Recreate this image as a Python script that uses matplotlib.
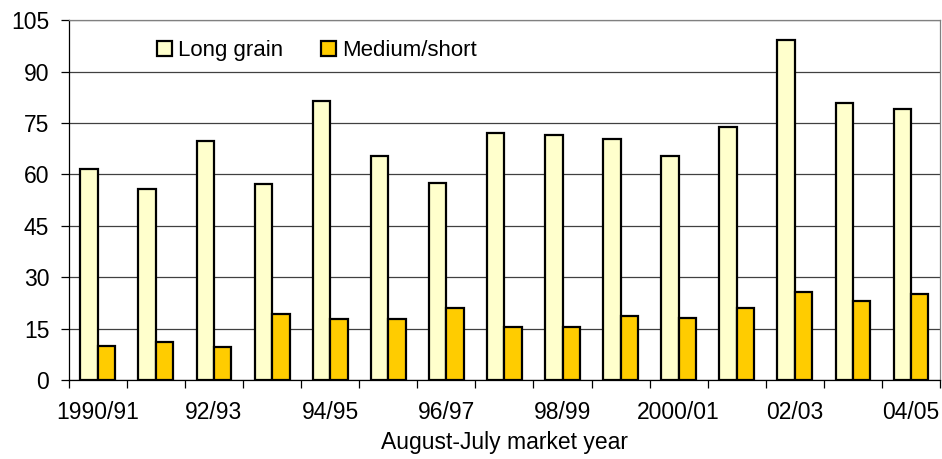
import numpy as np
import matplotlib
matplotlib.use("Agg")
import matplotlib.pyplot as plt
from matplotlib.patches import Patch

years = ["1990/91", "91/92", "92/93", "93/94", "94/95", "95/96", "96/97", "97/98",
         "98/99", "99/00", "2000/01", "01/02", "02/03", "03/04", "04/05"]
long_grain = [61.7, 55.7, 69.8, 57.2, 81.5, 65.5, 57.5, 72.2, 71.5, 70.3, 65.4, 73.8, 99.3, 80.7, 79.0]
medium_short = [9.9, 11.0, 9.6, 19.4, 17.7, 17.9, 21.0, 15.6, 15.6, 18.7, 18.0, 21.0, 25.6, 23.1, 25.1]

plt.rcParams["font.family"] = ["Liberation Sans", "DejaVu Sans"]
fig = plt.figure(figsize=(9.42, 4.59), dpi=100)
ax = fig.add_axes([0.073, 0.172, 0.925, 0.784])

x = np.arange(len(years)); w = 0.30
ax.bar(x - w/2, long_grain, w, color="#FFFFCC", edgecolor="black", linewidth=1.6, zorder=3, label="Long grain")
ax.bar(x + w/2, medium_short, w, color="#FFCC00", edgecolor="black", linewidth=1.6, zorder=3, label="Medium/short")

ax.set_xlim(-0.5, len(years) - 0.5)
ax.set_ylim(0, 105)
ax.set_yticks(np.arange(0, 106, 15))
ax.yaxis.grid(True, color="#404040", linewidth=0.9, zorder=0)
ax.tick_params(axis="y", labelsize=16.5, length=6, width=0.9, pad=8, direction="out")

# tick marks at category boundaries, labels every other year at centers
ax.set_xticks(np.arange(-0.5, len(years), 1.0))
ax.set_xticklabels([])
ax.set_xticks(x[::2], minor=True)
ax.set_xticklabels(years[::2], minor=True)
ax.tick_params(axis="x", which="major", length=6, width=0.9, direction="out")
ax.tick_params(axis="x", which="minor", length=0, labelsize=16.5, pad=15)
ax.set_xlabel("August-July market year", fontsize=16.5, labelpad=5)

for s in ["top", "right"]:
    ax.spines[s].set_color("#808080"); ax.spines[s].set_linewidth(0.9)
for s in ["left", "bottom"]:
    ax.spines[s].set_linewidth(0.9)

handles = [Patch(facecolor="#FFFFCC", edgecolor="black", linewidth=1.6),
           Patch(facecolor="#FFCC00", edgecolor="black", linewidth=1.6)]
ax.legend(handles, ["Long grain", "Medium/short"], loc="upper left", bbox_to_anchor=(0.078, 1.0),
          ncol=2, frameon=False, fontsize=16, handlelength=0.7, handleheight=0.7,
          handletextpad=0.25, columnspacing=1.7)

fig.savefig("out.png", dpi=100)
